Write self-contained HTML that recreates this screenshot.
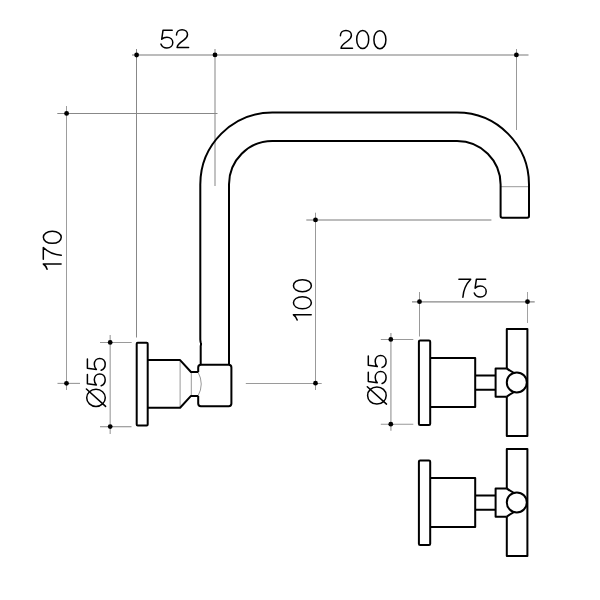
<!DOCTYPE html>
<html>
<head>
<meta charset="utf-8">
<style>
html,body{margin:0;padding:0;background:#fff;width:600px;height:600px;overflow:hidden;}
svg{display:block;will-change:transform;}
.txt{font-family:"Liberation Sans",sans-serif;font-size:26px;fill:#111;stroke:#fff;stroke-width:0.9px;}
</style>
</head>
<body>
<svg width="600" height="600" viewBox="0 0 600 600">
<rect x="0" y="0" width="600" height="600" fill="#fff"/>

<!-- dimension lines -->
<g fill="none">
  <!-- top dim line -->
  <line x1="132" y1="55" x2="528.5" y2="55" stroke="#7a7a7a" stroke-width="1.2"/>
  <line x1="136.5" y1="49" x2="136.5" y2="337.5" stroke="#888" stroke-width="1"/>
  <line x1="215" y1="49" x2="215" y2="186" stroke="#999" stroke-width="1.2"/>
  <line x1="516.5" y1="49" x2="516.5" y2="130" stroke="#999" stroke-width="1"/>
  <!-- 170 -->
  <line x1="66.5" y1="106" x2="66.5" y2="390" stroke="#9d9d9d" stroke-width="1"/>
  <line x1="57.3" y1="113.5" x2="217.5" y2="113.5" stroke="#888" stroke-width="1"/>
  <line x1="57.5" y1="383.4" x2="80" y2="383.4" stroke="#999" stroke-width="1.1"/>
  <!-- left dia 55 -->
  <line x1="110.2" y1="335" x2="110.2" y2="434" stroke="#aaa" stroke-width="1.3"/>
  <line x1="100" y1="342.5" x2="131.7" y2="342.5" stroke="#9a9a9a" stroke-width="1"/>
  <line x1="100" y1="426.7" x2="131.5" y2="426.7" stroke="#999" stroke-width="1.2"/>
  <!-- 100 -->
  <line x1="315.5" y1="212.7" x2="315.5" y2="390" stroke="#999" stroke-width="1"/>
  <line x1="306.3" y1="220" x2="491.4" y2="220" stroke="#7a7a7a" stroke-width="1.2"/>
  <line x1="245.8" y1="383.5" x2="321.7" y2="383.5" stroke="#9a9a9a" stroke-width="1"/>
  <!-- 75 -->
  <line x1="412" y1="301.8" x2="534.7" y2="301.8" stroke="#888" stroke-width="1.3"/>
  <line x1="419.5" y1="292" x2="419.5" y2="336.5" stroke="#999" stroke-width="1"/>
  <line x1="527.5" y1="292" x2="527.5" y2="323" stroke="#a2a2a2" stroke-width="1"/>
  <!-- right dia 55 -->
  <line x1="390.9" y1="333" x2="390.9" y2="430.8" stroke="#aaa" stroke-width="1.4"/>
  <line x1="380.8" y1="339.5" x2="413.3" y2="339.5" stroke="#999" stroke-width="1"/>
  <line x1="380.8" y1="424.3" x2="413.3" y2="424.3" stroke="#999" stroke-width="1.1"/>
</g>
<g fill="#000">
  <circle cx="136.6" cy="55" r="2.4"/>
  <circle cx="215" cy="54.9" r="2.4"/>
  <circle cx="516.4" cy="54.9" r="2.4"/>
  <circle cx="66.6" cy="113.4" r="2.4"/>
  <circle cx="66.5" cy="383.3" r="2.4"/>
  <circle cx="110.2" cy="342.4" r="2.4"/>
  <circle cx="110.2" cy="426.6" r="2.4"/>
  <circle cx="315.5" cy="219.9" r="2.4"/>
  <circle cx="315.5" cy="383.2" r="2.4"/>
  <circle cx="419.5" cy="301.7" r="2.4"/>
  <circle cx="527.5" cy="301.7" r="2.4"/>
  <circle cx="390.8" cy="339.4" r="2.4"/>
  <circle cx="390.8" cy="424.2" r="2.4"/>
</g>

<!-- grey detail lines -->
<g stroke="#999" stroke-width="1" fill="none">
  <line x1="500.5" y1="186.7" x2="529" y2="186.7"/>
  <line x1="180.1" y1="361" x2="180.1" y2="407"/>
  <line x1="191.3" y1="372" x2="191.3" y2="396"/>
  <path d="M198 372 Q204.5 384 198 396"/>
</g>

<!-- spout -->
<g stroke="#000" stroke-width="2" fill="none" stroke-linejoin="round">
  <path d="M200.7 364.8 L200.7 346 Q201.3 344 200.9 343 Q200.4 341.5 200.3 339.5 L200.3 184.5 A72 72 0 0 1 272.3 112.5 L457 112.5 A72 72 0 0 1 529 184.5 L529 216 Q529 217.7 527.3 217.7 L502.3 217.7 Q500.6 217.7 500.6 216 L500.6 184.5 A43.6 43.6 0 0 0 457 141 L272.3 141 A43.3 43.3 0 0 0 229 184.3 L229 364.8"/>
  <!-- left flange -->
  <rect x="136.7" y="342.7" width="11" height="82.8" rx="1"/>
  <!-- body + taper + neck -->
  <path d="M147.7 360.1 L180.1 360.1 L191 372 L198.2 372"/>
  <path d="M147.7 407.8 L180.1 407.8 L191 395.9 L198.2 395.9"/>
  <!-- elbow block -->
  <path d="M198.2 372 L198.2 367.5 Q198.2 364.8 200.9 364.8 L228.7 364.8 Q231.4 364.8 231.4 367.5 L231.4 403.5 Q231.4 406.2 228.7 406.2 L200.9 406.2 Q198.2 406.2 198.2 403.5 L198.2 395.9"/>
</g>

<!-- handle 1 -->
<g id="h1" stroke="#000" stroke-width="2" fill="none" stroke-linejoin="round">
  <rect x="418.9" y="340.6" width="11.3" height="84.4" rx="1.2"/>
  <path d="M430.2 357.9 L475.2 357.9 L475.2 406.9 L430.2 406.9"/>
  <path d="M475.2 375.5 L495.6 375.5 M475.2 389.8 L495.6 389.8"/>
  <path d="M506.8 368.4 L495.6 368.4 L495.6 396.8 L506.8 396.8"/>
  <path d="M506.8 368.4 L506.8 329 L527.4 329 L527.4 436 L506.8 436 L506.8 396.8"/>
  <path d="M506.8 368.4 Q510 371 513.5 372.6 M506.8 396.8 Q510 394 513.5 392.3"/>
  <circle cx="516.8" cy="382.4" r="10"/>
</g>
<use href="#h1" x="0" y="120"/>

<!-- text -->
<defs>
  <path id="g5" d="M11.3 0 L2.1 0 L0.8 9 C2.2 7.6 4 6.9 6 6.9 C9.5 6.9 11.9 9.3 11.9 12.3 C11.9 15.5 9.4 17.8 6 17.8 C3.2 17.8 0.9 16.3 0 13.8"/>
  <path id="g2" d="M0 5.2 C0 2.0 2.4 0 5.6 0 C8.8 0 11 2.1 11 4.8 C11 7.4 9.4 9 7.2 10.5 C3.5 13 0.8 15 0.6 17.8 L12.1 17.8"/>
  <path id="g0" d="M6.1 0.05 C9.46 0.05 12.1 3.45 12.1 9 C12.1 14.55 9.46 17.95 6.1 17.95 C2.74 17.95 0.1 14.55 0.1 9 C0.1 3.45 2.74 0.05 6.1 0.05 Z"/>
  <path id="g7" d="M0 0 L11.8 0 C8.5 3.4 4.6 9.3 4 18"/>
  <path id="g1" d="M0 3.8 Q3.5 2.6 5.2 0 L5.2 17.8"/>
  <g id="gO"><ellipse cx="8.8" cy="8.6" rx="8.6" ry="9.3"/><path d="M17.6 -1 L0.2 18.2"/></g>
</defs>
<g stroke="#000" stroke-width="1.5" fill="none" stroke-linecap="round" stroke-linejoin="round">
  <use href="#g5" transform="translate(160.9 30.3)"/>
  <use href="#g2" transform="translate(176.5 29.7)"/>
  <use href="#g2" transform="translate(340.4 30.5)"/>
  <use href="#g0" transform="translate(356.6 30.5)"/>
  <use href="#g0" transform="translate(373.8 30.7)"/>
  <use href="#g7" transform="translate(458.9 279.3)"/>
  <use href="#g5" transform="translate(474.3 279.2)"/>
  <use href="#g1" transform="translate(43.3 269.2) rotate(-90)"/>
  <use href="#g7" transform="translate(43.3 259.3) rotate(-90)"/>
  <use href="#g0" transform="translate(43.3 243.45) rotate(-90)"/>
  <use href="#g1" transform="translate(293.4 319.95) rotate(-90)"/>
  <use href="#g0" transform="translate(293.4 308.85) rotate(-90)"/>
  <use href="#g0" transform="translate(293.4 291.75) rotate(-90)"/>
  <use href="#gO" transform="translate(87.4 406.6) rotate(-90)"/>
  <use href="#g5" transform="translate(87.4 385.8) rotate(-90)"/>
  <use href="#g5" transform="translate(87.4 370.3) rotate(-90)"/>
  <use href="#gO" transform="translate(368.3 404.3) rotate(-90)"/>
  <use href="#g5" transform="translate(368.3 383.5) rotate(-90)"/>
  <use href="#g5" transform="translate(368.3 367.4) rotate(-90)"/>
</g>
</svg>
</body>
</html>
